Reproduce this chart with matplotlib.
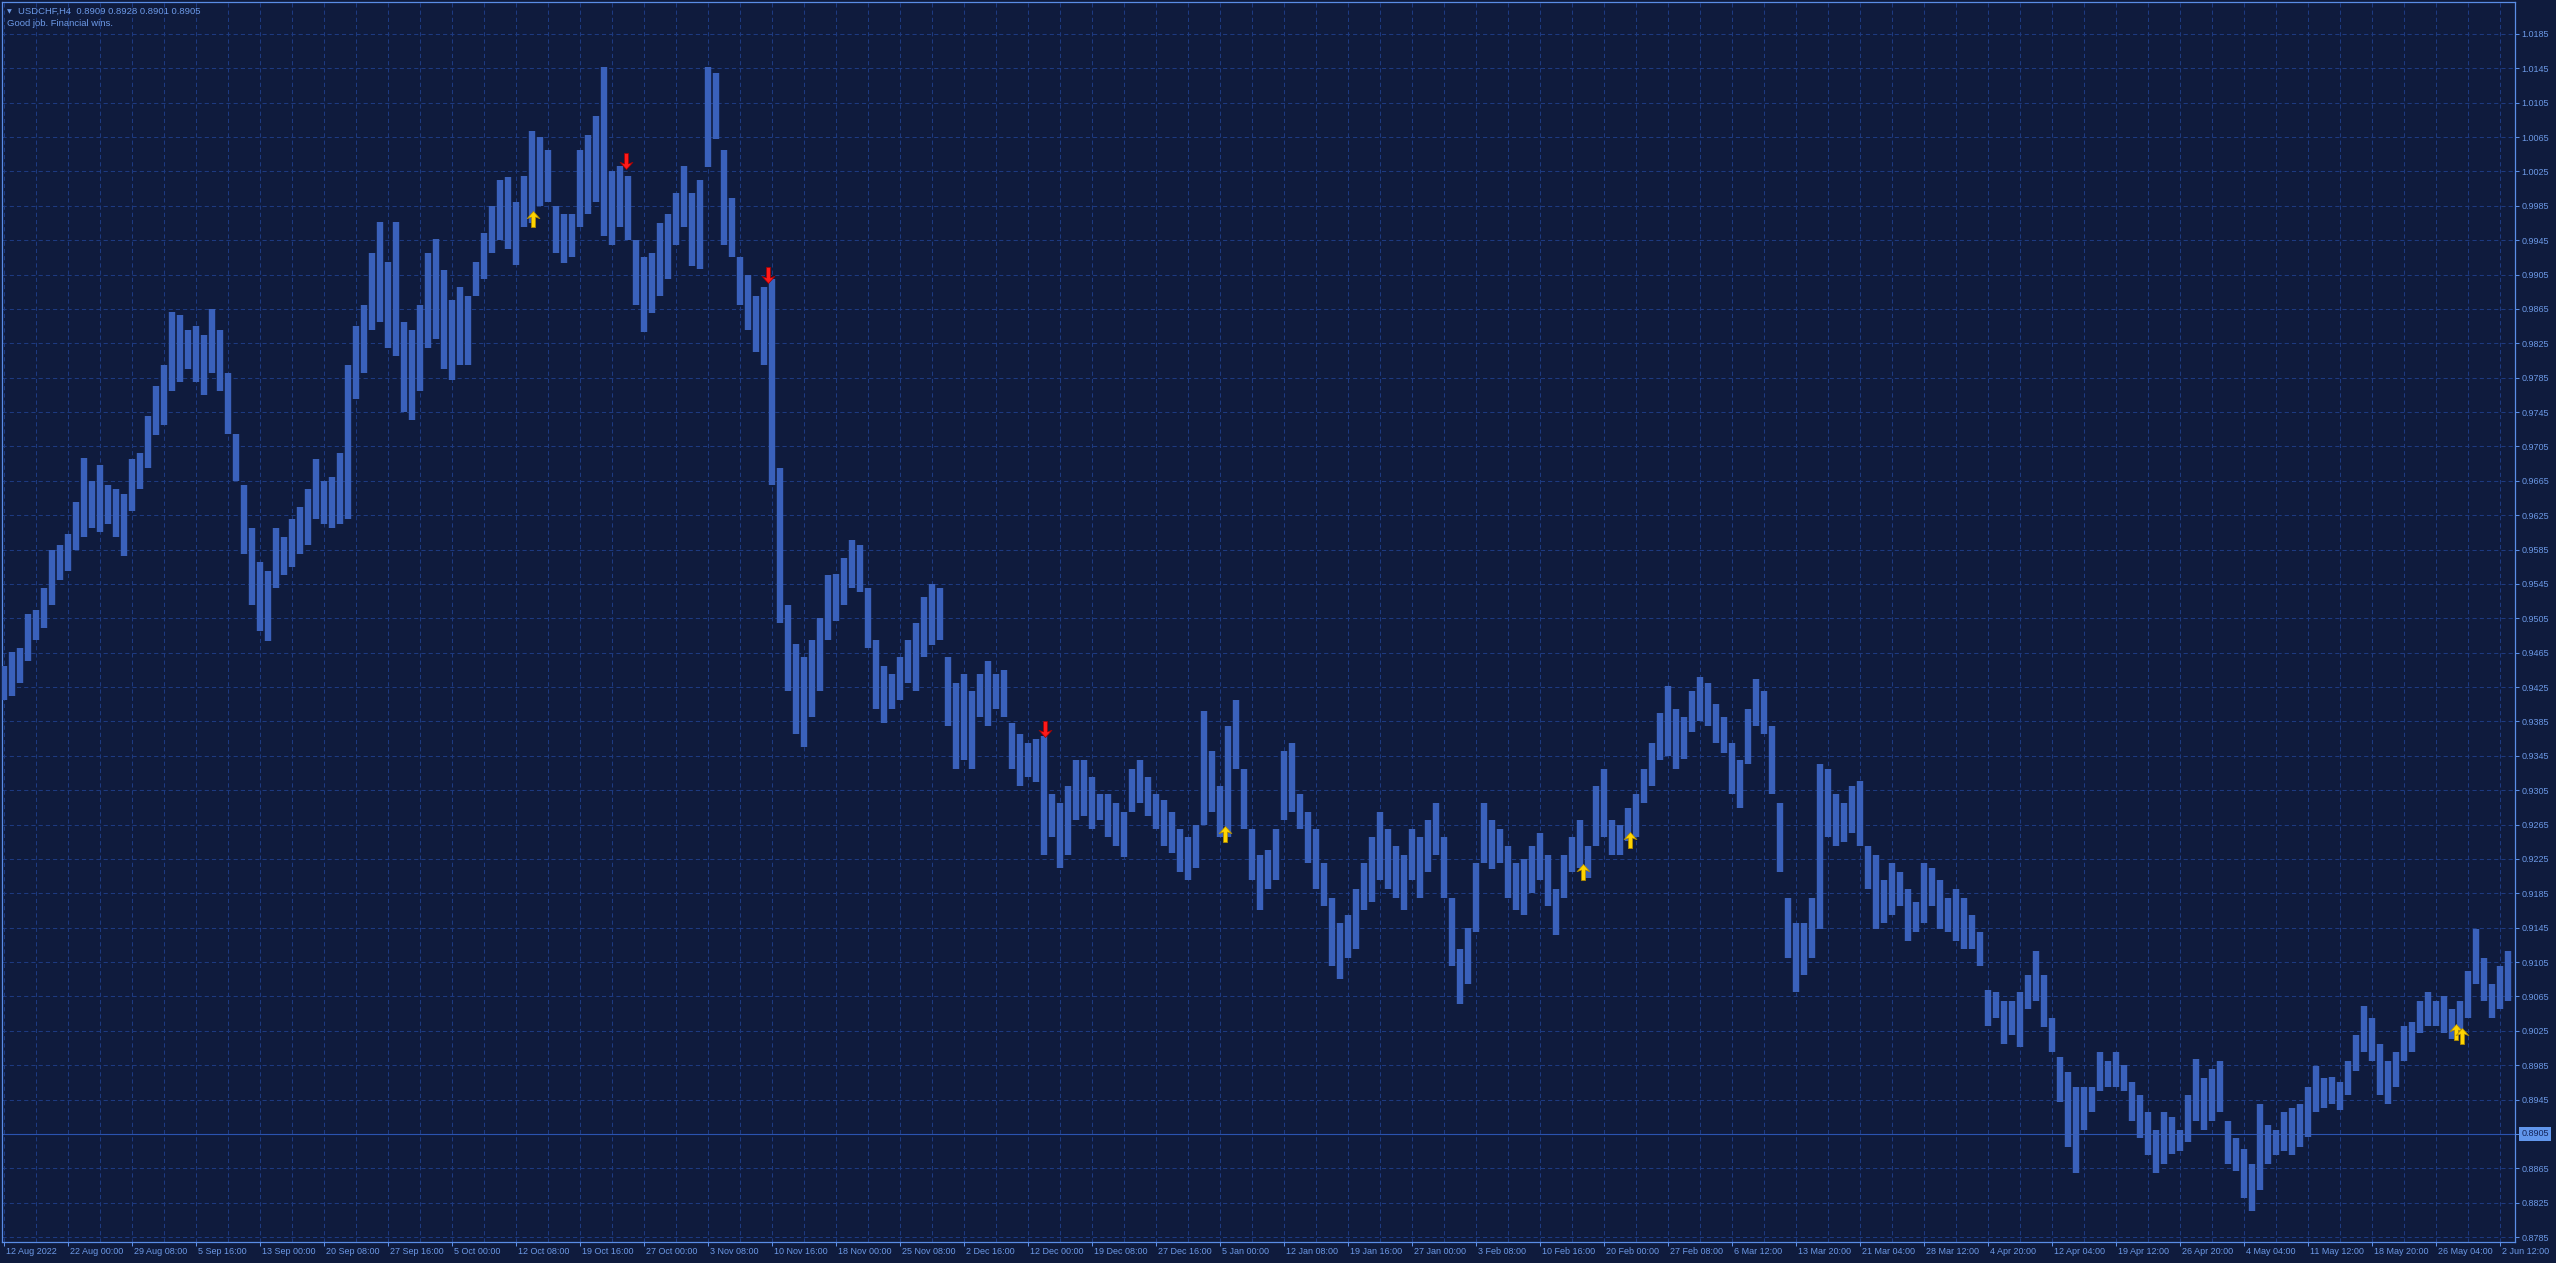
import matplotlib
matplotlib.use("Agg")
import matplotlib.pyplot as plt
import matplotlib.transforms as mtransforms
from matplotlib.path import Path
import numpy as np

plt.rcParams['font.family'] = ['Liberation Sans', 'DejaVu Sans']
plt.rcParams['lines.scale_dashes'] = False

# USDCHF H4, one entry per group of bars: high / low
highs = [
    0.9450, 0.9466, 0.9470, 0.9510, 0.9515, 0.9540, 0.9585, 0.9590, 0.9603, 0.9640,
    0.9692, 0.9665, 0.9683, 0.9660, 0.9655, 0.9650, 0.9690, 0.9697, 0.9740, 0.9775,
    0.9800, 0.9861, 0.9858, 0.9840, 0.9845, 0.9835, 0.9865, 0.9840, 0.9790, 0.9720,
    0.9660, 0.9610, 0.9570, 0.9560, 0.9610, 0.9600, 0.9620, 0.9635, 0.9655, 0.9690,
    0.9665, 0.9670, 0.9697, 0.9800, 0.9845, 0.9870, 0.9930, 0.9966, 0.9920, 0.9966,
    0.9850, 0.9840, 0.9870, 0.9930, 0.9946, 0.9910, 0.9875, 0.9890, 0.9880, 0.9920,
    0.9953, 0.9985, 1.0015, 1.0019, 0.9990, 1.0020, 1.0072, 1.0065, 1.0050, 0.9985,
    0.9976, 0.9975, 1.0050, 1.0068, 1.0090, 1.0147, 1.0025, 1.0031, 1.0020, 0.9945,
    0.9925, 0.9930, 0.9965, 0.9976, 1.0000, 1.0031, 1.0000, 1.0015, 1.0147, 1.0140,
    1.0050, 0.9994, 0.9925, 0.9905, 0.9880, 0.9890, 0.9900, 0.9680, 0.9520, 0.9475,
    0.9460, 0.9480, 0.9505, 0.9555, 0.9557, 0.9575, 0.9596, 0.9590, 0.9540, 0.9480,
    0.9450, 0.9440, 0.9460, 0.9480, 0.9500, 0.9530, 0.9545, 0.9540, 0.9460, 0.9430,
    0.9440, 0.9420, 0.9440, 0.9455, 0.9440, 0.9445, 0.9383, 0.9370, 0.9360, 0.9365,
    0.9368, 0.9300, 0.9290, 0.9310, 0.9340, 0.9340, 0.9320, 0.9300, 0.9300, 0.9290,
    0.9280, 0.9330, 0.9340, 0.9320, 0.9300, 0.9293, 0.9280, 0.9260, 0.9250, 0.9265,
    0.9397, 0.9350, 0.9310, 0.9380, 0.9410, 0.9330, 0.9260, 0.9230, 0.9235, 0.9260,
    0.9350, 0.9360, 0.9300, 0.9280, 0.9260, 0.9220, 0.9180, 0.9150, 0.9160, 0.9190,
    0.9220, 0.9250, 0.9280, 0.9260, 0.9240, 0.9229, 0.9260, 0.9250, 0.9270, 0.9290,
    0.9250, 0.9180, 0.9120, 0.9145, 0.9220, 0.9290, 0.9270, 0.9260, 0.9240, 0.9220,
    0.9225, 0.9240, 0.9255, 0.9230, 0.9190, 0.9230, 0.9250, 0.9270, 0.9240, 0.9310,
    0.9330, 0.9270, 0.9265, 0.9284, 0.9300, 0.9330, 0.9360, 0.9395, 0.9426, 0.9400,
    0.9390, 0.9420, 0.9437, 0.9430, 0.9405, 0.9390, 0.9360, 0.9340, 0.9400, 0.9434,
    0.9420, 0.9380, 0.9290, 0.9180, 0.9150, 0.9150, 0.9180, 0.9335, 0.9330, 0.9300,
    0.9290, 0.9310, 0.9316, 0.9240, 0.9230, 0.9200, 0.9220, 0.9210, 0.9190, 0.9175,
    0.9220, 0.9215, 0.9200, 0.9180, 0.9190, 0.9180, 0.9160, 0.9140, 0.9073, 0.9070,
    0.9060, 0.9060, 0.9070, 0.9090, 0.9118, 0.9090, 0.9040, 0.8995, 0.8977, 0.8960,
    0.8960, 0.8960, 0.9000, 0.8990, 0.9000, 0.8985, 0.8965, 0.8950, 0.8930, 0.8910,
    0.8930, 0.8925, 0.8910, 0.8950, 0.8992, 0.8970, 0.8980, 0.8990, 0.8920, 0.8900,
    0.8888, 0.8870, 0.8940, 0.8915, 0.8910, 0.8930, 0.8935, 0.8940, 0.8960, 0.8984,
    0.8970, 0.8971, 0.8965, 0.8990, 0.9020, 0.9054, 0.9040, 0.9010, 0.8990, 0.9000,
    0.9030, 0.9035, 0.9060, 0.9070, 0.9060, 0.9065, 0.9050, 0.9060, 0.9095, 0.9144,
    0.9110, 0.9080, 0.9100, 0.9118,
]
lows = [
    0.9410, 0.9415, 0.9430, 0.9455, 0.9480, 0.9494, 0.9520, 0.9550, 0.9560, 0.9585,
    0.9600, 0.9610, 0.9605, 0.9615, 0.9600, 0.9578, 0.9630, 0.9655, 0.9680, 0.9718,
    0.9730, 0.9770, 0.9780, 0.9795, 0.9780, 0.9765, 0.9790, 0.9770, 0.9720, 0.9665,
    0.9580, 0.9520, 0.9490, 0.9479, 0.9540, 0.9555, 0.9565, 0.9580, 0.9590, 0.9620,
    0.9615, 0.9610, 0.9615, 0.9621, 0.9760, 0.9790, 0.9840, 0.9850, 0.9820, 0.9810,
    0.9745, 0.9736, 0.9770, 0.9820, 0.9830, 0.9795, 0.9782, 0.9800, 0.9800, 0.9880,
    0.9900, 0.9930, 0.9945, 0.9935, 0.9916, 0.9960, 0.9965, 0.9985, 0.9990, 0.9930,
    0.9918, 0.9925, 0.9960, 0.9975, 0.9990, 0.9950, 0.9940, 0.9960, 0.9945, 0.9870,
    0.9838, 0.9860, 0.9880, 0.9900, 0.9940, 0.9960, 0.9915, 0.9911, 1.0030, 1.0063,
    0.9939, 0.9925, 0.9870, 0.9840, 0.9815, 0.9800, 0.9660, 0.9500, 0.9420, 0.9370,
    0.9355, 0.9390, 0.9420, 0.9480, 0.9502, 0.9520, 0.9540, 0.9536, 0.9470, 0.9400,
    0.9383, 0.9400, 0.9410, 0.9430, 0.9420, 0.9460, 0.9474, 0.9480, 0.9380, 0.9330,
    0.9340, 0.9330, 0.9390, 0.9380, 0.9400, 0.9390, 0.9330, 0.9310, 0.9320, 0.9315,
    0.9230, 0.9250, 0.9215, 0.9230, 0.9270, 0.9275, 0.9260, 0.9270, 0.9250, 0.9240,
    0.9227, 0.9280, 0.9290, 0.9275, 0.9260, 0.9240, 0.9232, 0.9210, 0.9200, 0.9215,
    0.9265, 0.9280, 0.9250, 0.9250, 0.9330, 0.9260, 0.9200, 0.9165, 0.9190, 0.9200,
    0.9270, 0.9280, 0.9260, 0.9220, 0.9190, 0.9170, 0.9100, 0.9085, 0.9110, 0.9120,
    0.9165, 0.9175, 0.9200, 0.9190, 0.9180, 0.9165, 0.9200, 0.9180, 0.9210, 0.9230,
    0.9179, 0.9100, 0.9056, 0.9080, 0.9140, 0.9220, 0.9213, 0.9220, 0.9180, 0.9165,
    0.9160, 0.9185, 0.9200, 0.9170, 0.9137, 0.9180, 0.9210, 0.9215, 0.9203, 0.9240,
    0.9250, 0.9230, 0.9230, 0.9246, 0.9250, 0.9290, 0.9310, 0.9340, 0.9345, 0.9330,
    0.9341, 0.9373, 0.9385, 0.9380, 0.9360, 0.9348, 0.9300, 0.9284, 0.9335, 0.9380,
    0.9370, 0.9300, 0.9210, 0.9110, 0.9070, 0.9090, 0.9110, 0.9144, 0.9250, 0.9240,
    0.9245, 0.9255, 0.9240, 0.9190, 0.9144, 0.9150, 0.9160, 0.9170, 0.9130, 0.9140,
    0.9150, 0.9170, 0.9144, 0.9140, 0.9130, 0.9120, 0.9120, 0.9100, 0.9030, 0.9040,
    0.9010, 0.9020, 0.9006, 0.9050, 0.9060, 0.9029, 0.9000, 0.8942, 0.8890, 0.8859,
    0.8910, 0.8930, 0.8955, 0.8960, 0.8960, 0.8955, 0.8920, 0.8900, 0.8880, 0.8860,
    0.8870, 0.8882, 0.8885, 0.8895, 0.8920, 0.8910, 0.8920, 0.8930, 0.8870, 0.8862,
    0.8830, 0.8815, 0.8840, 0.8870, 0.8880, 0.8885, 0.8880, 0.8890, 0.8901, 0.8930,
    0.8935, 0.8940, 0.8933, 0.8950, 0.8978, 0.9000, 0.8990, 0.8950, 0.8940, 0.8960,
    0.8990, 0.9000, 0.9022, 0.9030, 0.9030, 0.9022, 0.9016, 0.9020, 0.9040, 0.9080,
    0.9060, 0.9040, 0.9050, 0.9060,
]

# signal arrows: position (in entries) and price
buy_pos = [66.1, 152.6, 197.4, 203.25, 306.5, 307.25]
buy_price = [0.9970, 0.9254, 0.9210, 0.9247, 0.9024, 0.9019]
sell_pos = [77.75, 95.5, 130.1]
sell_price = [1.0037, 0.9905, 0.9376]

date_labels = [
    "12 Aug 2022", "22 Aug 00:00", "29 Aug 08:00", "5 Sep 16:00", "13 Sep 00:00",
    "20 Sep 08:00", "27 Sep 16:00", "5 Oct 00:00", "12 Oct 08:00", "19 Oct 16:00",
    "27 Oct 00:00", "3 Nov 08:00", "10 Nov 16:00", "18 Nov 00:00", "25 Nov 08:00",
    "2 Dec 16:00", "12 Dec 00:00", "19 Dec 08:00", "27 Dec 16:00", "5 Jan 00:00",
    "12 Jan 08:00", "19 Jan 16:00", "27 Jan 00:00", "3 Feb 08:00", "10 Feb 16:00",
    "20 Feb 00:00", "27 Feb 08:00", "6 Mar 12:00", "13 Mar 20:00", "21 Mar 04:00",
    "28 Mar 12:00", "4 Apr 20:00", "12 Apr 04:00", "19 Apr 12:00", "26 Apr 20:00",
    "4 May 04:00", "11 May 12:00", "18 May 20:00", "26 May 04:00", "2 Jun 12:00",
]
price_ticks = [round(0.8785 + 0.004 * k, 4) for k in range(36)]

symbol = "USDCHF,H4"
ohlc = [0.8909, 0.8928, 0.8901, 0.8905]
comment = "Good job. Financial wins."
last_price = 0.8905

BG = '#0f1b3d'
GRID = '#1d3a80'
BAR = '#3a61bb'
AXC = '#5a8de6'
TXT = '#6c99e6'

W, H = 2556, 1263
fig = plt.figure(figsize=(W / 100, H / 100), dpi=100, facecolor=BG)
ax = fig.add_axes([2 / W, 21 / H, 2513 / W, 1240 / H])
ax.set_facecolor(BG)

x = np.arange(len(highs))
ax.vlines(x, lows, highs, color=BAR, lw=4.6, zorder=3)

ax.set_xlim(-0.25, 313.875)
ax.set_ylim(0.87792, 1.02222)

# grid
ax.set_xticks(np.arange(len(date_labels)) * 8)
ax.set_xticklabels(date_labels)
ax.set_xticks(np.arange(0, 79) * 4, minor=True)
ax.set_yticks(price_ticks)
ax.set_yticklabels([f"{v:.4f}" for v in price_ticks])
ax.yaxis.tick_right()
ax.grid(True, which='both', axis='x', color=GRID, lw=0.75, linestyle=(0, (3.0, 2.2)))
ax.grid(True, which='major', axis='y', color=GRID, lw=0.75, linestyle=(0, (3.0, 2.2)))
ax.set_axisbelow(True)

ax.tick_params(axis='both', which='major', colors=AXC, labelcolor=TXT, labelsize=6.5,
               length=2.6, width=0.75, direction='out')
ax.tick_params(axis='x', which='major', pad=1.2)
ax.tick_params(axis='y', which='major', pad=2.2)
ax.tick_params(axis='x', which='minor', length=0)
off = mtransforms.ScaledTranslation(1.5 / 100, 0, fig.dpi_scale_trans)
for lab in ax.get_xticklabels():
    lab.set_horizontalalignment('left')
    lab.set_transform(lab.get_transform() + off)

for sp in ax.spines.values():
    sp.set_color(AXC)
    sp.set_linewidth(0.9)

# current price line and label
ax.axhline(last_price, color='#2a53b0', lw=0.8, zorder=2)
tr = mtransforms.blended_transform_factory(ax.transAxes, ax.transData)
ax.text(1.0025, last_price, f"{last_price:.4f}", transform=tr, fontsize=6.5,
        color='#13245a', va='center', ha='left', clip_on=False, zorder=10,
        bbox=dict(boxstyle='square,pad=0.25', facecolor='#6196ec', edgecolor='none'))

# signal arrows
up_verts = [(0, 1), (0.8, 0.1), (0.25, 0.3), (0.25, -1), (-0.25, -1),
            (-0.25, 0.3), (-0.8, 0.1), (0, 1)]
codes = [Path.MOVETO] + [Path.LINETO] * 6 + [Path.CLOSEPOLY]
up_arrow = Path(up_verts, codes)
down_arrow = Path([(vx, -vy) for vx, vy in up_verts], codes)
ax.scatter(buy_pos, buy_price, marker=up_arrow, s=135, c='#ffd400',
           edgecolors='#b08a00', linewidths=0.5, zorder=6)
ax.scatter(sell_pos, sell_price, marker=down_arrow, s=135, c='#ff1a1a',
           edgecolors='#a00000', linewidths=0.5, zorder=6)

# header
fig.text(7 / W, 1 - 11.5 / H, "\u25BC", fontsize=4.5, color=TXT, va='center',
         ha='left', family='DejaVu Sans')
fig.text(18 / W, 1 - 11 / H, symbol + "  " + " ".join(f"{v:.4f}" for v in ohlc),
         fontsize=6.8, color=TXT, va='center', ha='left')
fig.text(7 / W, 1 - 24 / H, comment, fontsize=6.8, color=TXT, va='center', ha='left')

fig.savefig("out.png", dpi=100, facecolor=BG)
